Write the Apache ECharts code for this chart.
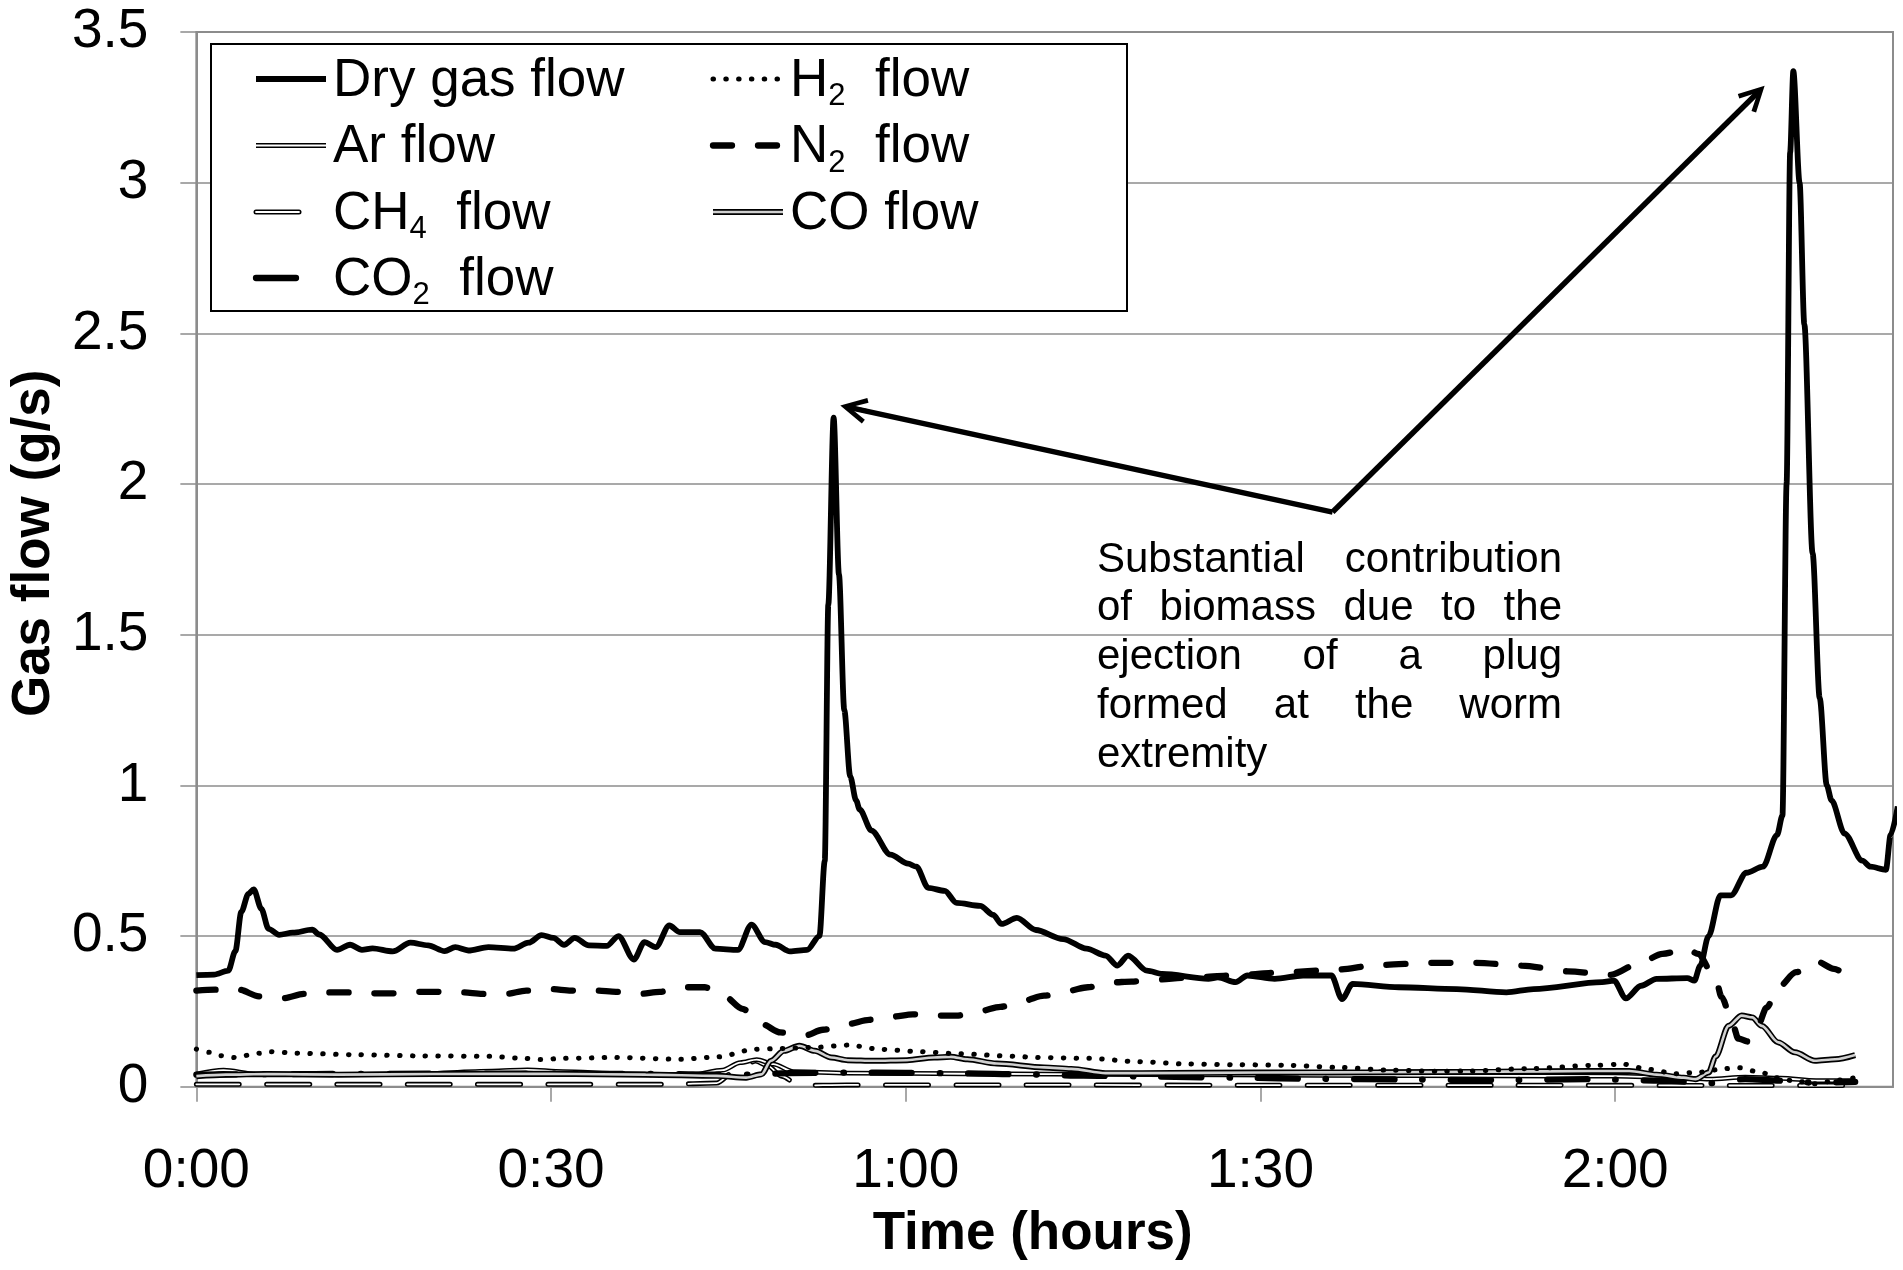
<!DOCTYPE html>
<html>
<head>
<meta charset="utf-8">
<title>Gas flow</title>
<script src="https://cdn.jsdelivr.net/npm/echarts@6/dist/echarts.min.js"></script>
<style>
  html, body { margin: 0; padding: 0; background: #fff; }
  #main { width: 1903px; height: 1270px; }
</style>
</head>
<body>
<div id="main"></div>
<script>
// 数据：时间 (分钟), 流量 (g/s)
var dryGas = [[0,0.37],[1.5,0.372],[2.7,0.385],[3.3,0.45],[3.8,0.58],[4.4,0.64],[4.85,0.655],[5.5,0.59],[6.1,0.524],[7.0,0.504],[8.15,0.511],[9.8,0.521],[10.4,0.505],[11.9,0.454],[13.0,0.471],[14.0,0.454],[14.9,0.459],[16.6,0.449],[18.1,0.478],[19.6,0.469],[21.0,0.45],[21.9,0.463],[23.0,0.452],[24.7,0.463],[26.8,0.458],[28.1,0.478],[29.2,0.503],[30.2,0.494],[31.1,0.471],[32.0,0.494],[33.2,0.469],[34.7,0.467],[35.7,0.5],[37.0,0.422],[37.9,0.48],[38.85,0.463],[40.0,0.535],[40.9,0.513],[42.6,0.513],[43.9,0.458],[45.8,0.454],[46.95,0.538],[48.1,0.48],[49.0,0.471],[50.2,0.449],[51.65,0.454],[52.7,0.5],[53.15,0.75],[53.45,1.6],[53.9,2.22],[54.35,1.7],[54.8,1.25],[55.3,1.03],[55.8,0.95],[56.1,0.92],[57.1,0.85],[58.7,0.77],[60.2,0.74],[60.9,0.73],[61.9,0.66],[63.3,0.65],[64.3,0.61],[66.3,0.6],[67.4,0.57],[68.1,0.54],[69.4,0.56],[71.0,0.52],[73.3,0.49],[75.3,0.458],[76.9,0.435],[77.9,0.402],[78.8,0.435],[80.4,0.385],[81.7,0.374],[85.6,0.358],[86.4,0.363],[87.9,0.347],[88.9,0.369],[91.2,0.358],[93.6,0.369],[96.0,0.369],[96.9,0.291],[97.8,0.341],[101.7,0.33],[106.6,0.324],[110.8,0.313],[113.1,0.324],[118.9,0.347],[119.9,0.352],[120.9,0.293],[122.2,0.335],[123.5,0.358],[126.1,0.36],[126.7,0.352],[127.2,0.402],[127.9,0.5],[128.9,0.635],[129.8,0.635],[131.1,0.71],[132.5,0.73],[133.7,0.836],[134.15,0.9],[134.5,2.0],[134.8,3.1],[135.07,3.37],[135.6,3.0],[136.0,2.53],[136.7,1.77],[137.3,1.29],[137.9,1.0],[138.3,0.95],[139.4,0.84],[140.9,0.75],[141.6,0.73],[142.9,0.72],[143.3,0.836],[143.9,0.93]];
var h2Flow = [[0,0.125],[1.1,0.114],[2.1,0.103],[3.2,0.097],[5.3,0.111],[6.3,0.116],[8.5,0.111],[13.6,0.106],[19.2,0.102],[24.8,0.101],[27.7,0.094],[29.1,0.09],[31.0,0.094],[35.5,0.097],[41.0,0.091],[44.1,0.099],[47.2,0.124],[49.5,0.127],[52.5,0.131],[55.1,0.138],[57.9,0.124],[61.3,0.116],[64.6,0.109],[69.1,0.101],[71.1,0.097],[75.5,0.094],[79.7,0.083],[83.9,0.075],[88.1,0.073],[92.3,0.071],[96.6,0.064],[100.8,0.055],[105.0,0.051],[107.5,0.052],[112.7,0.06],[118.3,0.071],[120.6,0.075],[122.9,0.057],[125.1,0.043],[127.1,0.048],[129.3,0.06],[130.4,0.063],[132.4,0.047],[133.5,0.03],[135.2,0.019],[136.9,0.01],[138.9,0.022],[140.3,0.03]];
var n2Flow = [[0,0.319],[1.75,0.322],[3.6,0.322],[5.3,0.30],[7.4,0.294],[9.1,0.308],[11,0.313],[12.9,0.313],[14.9,0.31],[16.6,0.31],[18.7,0.315],[20.4,0.315],[22.5,0.313],[24.2,0.308],[26.2,0.308],[27.9,0.319],[30,0.324],[31.7,0.319],[33.8,0.319],[35.5,0.315],[37.5,0.308],[39.2,0.315],[41.1,0.33],[43,0.33],[44.6,0.302],[46.2,0.258],[47.8,0.208],[49.4,0.18],[51.4,0.169],[53,0.189],[55.1,0.208],[56.9,0.222],[58.8,0.232],[60.6,0.24],[62.5,0.236],[64.3,0.236],[66.2,0.25],[68,0.265],[69.9,0.285],[71.7,0.302],[73.7,0.318],[75.4,0.33],[77.4,0.346],[79.1,0.349],[81,0.355],[84,0.362],[88,0.37],[92,0.38],[96,0.387],[100.1,0.404],[104.3,0.411],[108.2,0.411],[112.1,0.402],[116,0.383],[119.6,0.371],[122.2,0.413],[124,0.441],[126.1,0.458],[127,0.441],[128.5,0.358],[129,0.298],[130,0.2],[130.4,0.16],[131.2,0.15],[132.1,0.205],[132.8,0.262],[133.8,0.33],[135.3,0.38],[137.1,0.415],[138.5,0.391],[139.6,0.37]];
var arFlow = [[0,0.042],[2.3,0.055],[5,0.042],[10,0.04],[18,0.042],[25,0.052],[28,0.056],[31,0.05],[36,0.043],[42,0.04],[44.5,0.055],[46,0.08],[47.4,0.09],[48.8,0.075],[50.5,0.05],[55,0.045],[65,0.043],[80,0.04],[95,0.038],[110,0.036],[120,0.035],[125,0.03],[128,0.025],[131,0.032],[134,0.028],[137,0.02],[140.3,0.02]];
var ch4Flow = [[0,0.008],[10,0.008],[20,0.008],[30,0.008],[40,0.008],[44,0.012],[45.5,0.05],[47.3,0.085],[48.3,0.07],[49.5,0.035],[51,0.004],[55,0.006],[70,0.006],[90,0.005],[110,0.005],[130,0.004],[140.3,0.004]];
var coFlow = [[0,0.035],[2.5,0.04],[6,0.042],[12,0.04],[20,0.042],[30,0.043],[38,0.04],[44,0.036],[46.5,0.03],[47.8,0.041],[48.6,0.086],[49.7,0.119],[51.0,0.136],[52.3,0.119],[53.7,0.097],[55.1,0.088],[57.3,0.086],[60.1,0.088],[62.4,0.097],[63.8,0.099],[65.2,0.091],[67.7,0.077],[71.7,0.064],[74.0,0.059],[76.9,0.045],[80,0.045],[90,0.047],[100,0.048],[110,0.05],[118,0.052],[121.2,0.052],[123.5,0.04],[125.8,0.03],[126.8,0.025],[127.9,0.047],[128.5,0.1],[129.6,0.202],[130.7,0.236],[131.6,0.23],[132.4,0.202],[133.8,0.147],[135.2,0.114],[136.9,0.086],[138.6,0.091],[140.3,0.105]];
var co2Flow = [[0,0.04],[10,0.042],[20,0.043],[30,0.043],[40,0.042],[44,0.04],[47,0.04],[50,0.045],[55,0.047],[60,0.046],[65,0.044],[70,0.041],[75,0.037],[80,0.034],[88,0.03],[95,0.026],[102,0.024],[110,0.022],[118,0.025],[124,0.02],[128,0.012],[131,0.025],[134,0.02],[137,0.013],[140.3,0.016]];

var xTickLabels = ['0:00', '0:30', '1:00', '1:30', '2:00'];
// 注释箭头 (起点和终点, 数据坐标)
var arrowStart = [96.1, 1.907];
var arrowEnds = [[55.58, 2.251], [131.83, 3.29]];
var noteLines = ['Substantial contribution', 'of biomass due to the', 'ejection of a plug', 'formed at the worm', 'extremity'];

var FONT = "'Liberation Sans', Arial, sans-serif";
var myChart = echarts.init(document.getElementById('main'));

// 线型
var styles = {
  dry: { color: '#000', width: 5.8 },
  h2: { color: '#000', width: 5, type: [0.5, 12.3], cap: 'round' },
  n2: { color: '#000', width: 6.3, type: [19, 26], cap: 'round' },
  arOut: { color: '#000', width: 4.8 },
  arIn: { color: '#fff', width: 1.8 },
  ch4Out: { color: '#000', width: 5, type: [43, 27.3], cap: 'round' },
  ch4In: { color: '#fff', width: 1.8, type: [43, 27.3], cap: 'round' },
  coOut: { color: '#000', width: 6 },
  coIn: { color: '#d0d0d0', width: 2.6 },
  co2: { color: '#000', width: 6.3, type: [40, 28, 0.5, 28], cap: 'round' }
};

function lineSeries(name, data, ls) {
  return {
    name: name,
    type: 'line',
    data: data,
    symbol: 'none',
    smooth: 0.3,
    smoothMonotone: 'x',
    lineStyle: ls,
    silent: true,
    animation: false
  };
}

// 箭头
var arrowPath = 'path://M12,0 L24,23 L20,25 L14,13 L14,25 L10,25 L10,13 L4,25 L0,23 Z';
var dryS = lineSeries('Dry gas flow', dryGas, styles.dry);
dryS.markLine = {
  silent: true,
  animation: false,
  symbol: ['none', arrowPath],
  symbolSize: [26, 27],
  label: { show: false },
  lineStyle: { color: '#000', width: 5.4, type: 'solid' },
  data: arrowEnds.map(function (e) {
    return [{ coord: arrowStart }, { coord: e }];
  })
};

// 图例 (自己画)
function legendText(main, sub, rest) {
  if (!sub) return '{a|' + main + '}';
  return '{a|' + main + '}{s|' + sub + '}{a|' + rest + '}';
}
var legendRich = {
  a: { fontSize: 53, fontFamily: FONT, lineHeight: 62, fill: '#000' },
  s: { fontSize: 31, fontFamily: FONT, lineHeight: 33, verticalAlign: 'bottom', fill: '#000' }
};
var legendItems = [
  { col: 0, row: 0, len: 70, text: legendText('Dry gas flow'), lines: [styles.dry] },
  { col: 0, row: 1, len: 70, text: legendText('Ar flow'), lines: [styles.arOut, styles.arIn] },
  { col: 0, row: 2, len: 70, text: legendText('CH', '4', '  flow'), lines: [styles.ch4Out, styles.ch4In] },
  { col: 0, row: 3, len: 60, text: legendText('CO', '2', '  flow'), lines: [styles.co2] },
  { col: 1, row: 0, len: 70, text: legendText('H', '2', '  flow'), lines: [styles.h2] },
  { col: 1, row: 1, len: 70, text: legendText('N', '2', '  flow'), lines: [styles.n2] },
  { col: 1, row: 2, len: 70, text: legendText('CO flow'), lines: [styles.coOut, styles.coIn] }
];
var colX = [256, 713];
var rowY = [79, 145.5, 212, 278];
var graphics = [{
  type: 'rect', z: 100,
  shape: { x: 211, y: 44, width: 916, height: 267 },
  style: { fill: '#fff', stroke: '#000', lineWidth: 2 }
}];
legendItems.forEach(function (it) {
  var x = colX[it.col], y = rowY[it.row];
  it.lines.forEach(function (ls) {
    graphics.push({
      type: 'line', z: 101,
      shape: { x1: x, y1: y, x2: x + it.len, y2: y },
      style: {
        stroke: ls.color, lineWidth: ls.width,
        lineDash: ls.type || null, lineCap: ls.cap || 'butt'
      }
    });
  });
  graphics.push({
    type: 'text', z: 102,
    x: x + 77, y: y + 2,
    style: { text: it.text, rich: legendRich, verticalAlign: 'middle', align: 'left' }
  });
});

// 两端对齐的注释文字
var ctx = document.createElement('canvas').getContext('2d');
var noteFont = '42px ' + FONT;
ctx.font = noteFont;
var noteLeft = 1097, noteRight = 1562, noteTop = 560, noteStep = 48.8;
noteLines.forEach(function (line, i) {
  var words = line.split(' ');
  var y = noteTop + i * noteStep;
  if (i === noteLines.length - 1 || words.length === 1) {
    graphics.push({ type: 'text', z: 50, x: noteLeft, y: y,
      style: { text: line, font: noteFont, fill: '#000', verticalAlign: 'middle', align: 'left' } });
    return;
  }
  var total = 0;
  words.forEach(function (w) { total += ctx.measureText(w).width; });
  var gap = (noteRight - noteLeft - total) / (words.length - 1);
  var x = noteLeft;
  words.forEach(function (w) {
    graphics.push({ type: 'text', z: 50, x: x, y: y,
      style: { text: w, font: noteFont, fill: '#000', verticalAlign: 'middle', align: 'left' } });
    x += ctx.measureText(w).width + gap;
  });
});

var option = {
  backgroundColor: '#fff',
  animation: false,
  grid: {
    left: 190, right: 10, top: 32, bottom: 183.3,
    show: true, borderColor: '#8c8c8c', borderWidth: 2
  },
  xAxis: {
    type: 'value',
    min: 0, max: 143.5, interval: 30,
    axisLine: { show: true, lineStyle: { color: '#8c8c8c', width: 2 } },
    axisTick: { show: true, length: 15, lineStyle: { color: '#8c8c8c', width: 1.5 } },
    splitLine: { show: false },
    axisLabel: {
      margin: 58, fontSize: 55, color: '#000', fontFamily: FONT, showMaxLabel: false,
      formatter: function (v) { return v % 30 === 0 ? xTickLabels[v / 30] : ''; }
    },
    name: 'Time (hours)', nameLocation: 'middle', nameGap: 121,
    nameTextStyle: { fontSize: 53, fontWeight: 'bold', color: '#000', fontFamily: FONT, padding: [0, 24, 0, 0] }
  },
  yAxis: {
    type: 'value',
    min: 0, max: 3.5, interval: 0.5,
    axisLine: { show: true, lineStyle: { color: '#8c8c8c', width: 2 } },
    axisTick: { show: true, length: 16, lineStyle: { color: '#8c8c8c', width: 1.5 } },
    splitLine: { show: true, lineStyle: { color: '#8c8c8c', width: 1.5 } },
    axisLabel: { margin: 48, fontSize: 55, color: '#000', fontFamily: FONT },
    name: 'Gas flow (g/s)', nameLocation: 'middle', nameGap: 115,
    nameTextStyle: { fontSize: 53, fontWeight: 'bold', color: '#000', fontFamily: FONT, padding: [0, 0, 0, 32] }
  },
  graphic: graphics,
  series: [
    lineSeries('CH4 flow', ch4Flow, styles.ch4Out),
    lineSeries('CH4 flow inner', ch4Flow, styles.ch4In),
    lineSeries('Ar flow', arFlow, styles.arOut),
    lineSeries('Ar flow inner', arFlow, styles.arIn),
    lineSeries('CO2 flow', co2Flow, styles.co2),
    lineSeries('CO flow', coFlow, styles.coOut),
    lineSeries('CO flow inner', coFlow, styles.coIn),
    lineSeries('H2 flow', h2Flow, styles.h2),
    lineSeries('N2 flow', n2Flow, styles.n2),
    dryS
  ]
};

myChart.setOption(option);
</script>
</body>
</html>
